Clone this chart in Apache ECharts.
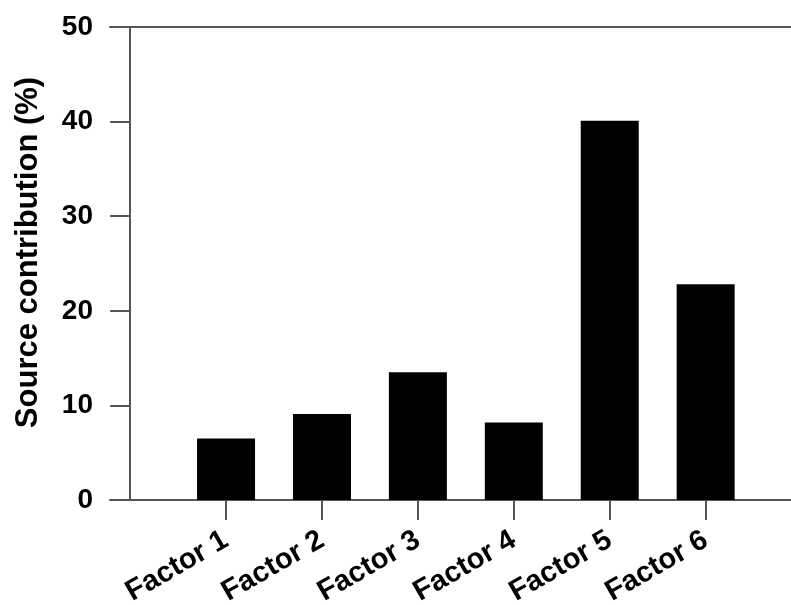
<!DOCTYPE html>
<html><head><meta charset="utf-8">
<script src="https://cdn.jsdelivr.net/npm/echarts@6/dist/echarts.min.js"></script>
<style>html,body{margin:0;padding:0;background:#fff}#c{width:791px;height:605px}</style>
</head><body><div id="c"></div>
<script>
const categories = ['Factor 1','Factor 2','Factor 3','Factor 4','Factor 5','Factor 6'];
const values = [6.5, 9.1, 13.5, 8.2, 40.1, 22.8];
const yTicks = [0, 10, 20, 30, 40, 50];
const positions = categories.map((c, i) => i + 1);

const lineColor = '#555';
const font = '"Liberation Sans", Arial, sans-serif';
const chart = echarts.init(document.getElementById('c'));
chart.setOption({
  animation: false,
  grid: {left: 110, right: 0, top: 27, bottom: 105, outerBoundsMode: 'none', containLabel: false},
  xAxis: [{
    type: 'value', min: -0.21, max: 6.89,
    splitLine: {show: false},
    axisLine: {show: true, onZero: false, lineStyle: {color: lineColor, width: 2}},
    axisTick: {show: true, customValues: positions, length: 20, lineStyle: {color: lineColor, width: 2}},
    axisLabel: {
      customValues: positions, rotate: 30, margin: 38,
      formatter: v => categories[Math.round(v) - 1] || '',
      fontFamily: font, fontWeight: 'bold', fontSize: 29, color: '#000'
    }
  }, {
    type: 'value', position: 'top', min: -0.21, max: 6.89,
    splitLine: {show: false},
    axisLine: {show: true, onZero: false, lineStyle: {color: lineColor, width: 2}},
    axisTick: {show: false}, axisLabel: {show: false}
  }],
  yAxis: {
    type: 'value', min: 0, max: 50, interval: 10,
    name: 'Source contribution (%)', nameLocation: 'middle', nameGap: 66, nameMoveOverlap: false,
    nameTextStyle: {fontFamily: font, fontWeight: 'bold', fontSize: 31, color: '#000', padding: [0, 0, 0, 22]},
    splitLine: {show: false},
    axisLine: {show: true, onZero: true, lineStyle: {color: lineColor, width: 2}},
    axisTick: {show: true, length: 20, customValues: yTicks, lineStyle: {color: lineColor, width: 2}},
    axisLabel: {customValues: yTicks, margin: 17, fontFamily: font, fontWeight: 'bold', fontSize: 28, color: '#000'}
  },
  series: [{
    type: 'bar', barWidth: 58,
    itemStyle: {color: '#000'},
    data: positions.map((p, i) => [p, values[i]])
  }]
});
</script></body></html>
